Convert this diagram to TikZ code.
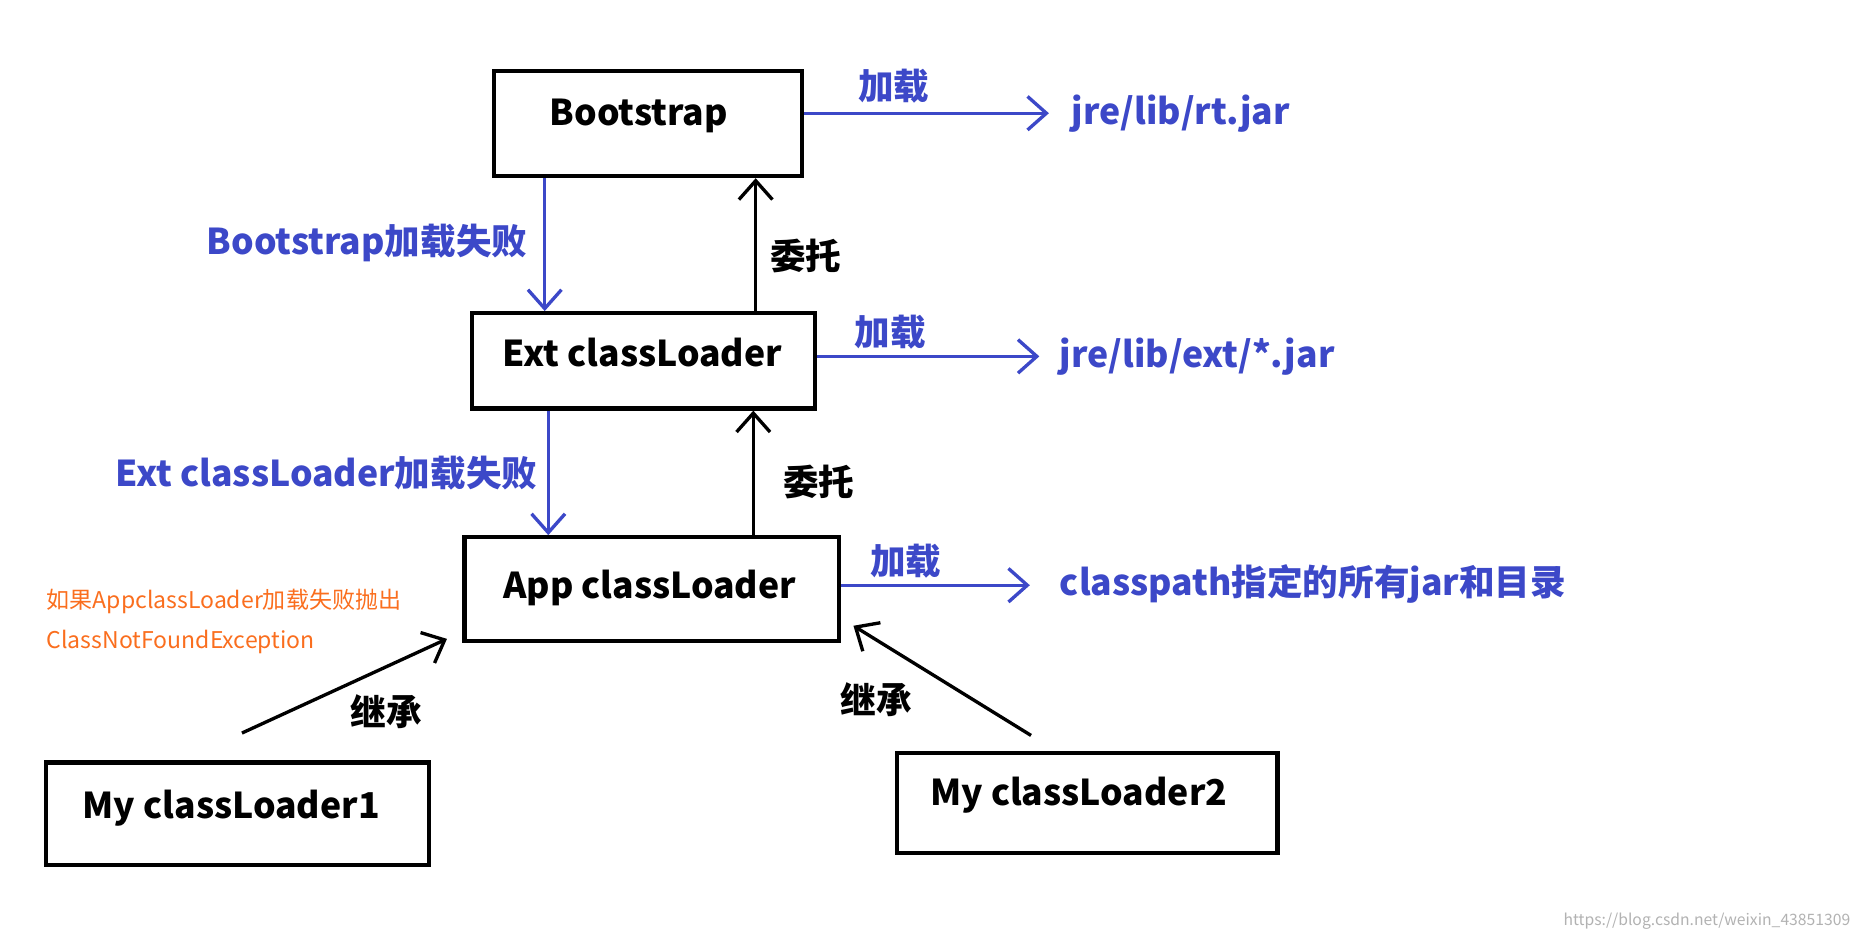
\documentclass[tikz,border=0pt]{standalone}
\usepackage{fontspec}
\setmainfont{Noto Sans CJK SC}
\usetikzlibrary{arrows.meta}
\definecolor{lblue}{RGB}{60,72,200}
\definecolor{lorange}{RGB}{250,110,30}
\begin{document}
\begin{tikzpicture}[x=0.02cm,y=-0.02cm,
  box/.style={draw,line width=2pt,inner sep=0,anchor=north west},
  btxt/.style={font=\fontsize{17}{20}\selectfont\bfseries},
  ltxt/.style={font=\fontsize{17}{20}\selectfont\bfseries,text=lblue},
  barrow/.style={line width=1.6pt,-{Straight Barb[length=9pt,width=16pt]}},
  blarrow/.style={barrow,draw=lblue}]
\useasboundingbox (0,0) rectangle (1563,786);
% boxes
\node[box,minimum width=258*0.02cm,minimum height=88*0.02cm] (boot) at (413,58) {};
\node[btxt] at (536,97) {Bootstrap};
\node[box,minimum width=288*0.02cm,minimum height=80*0.02cm] (ext) at (394,261) {};
\node[btxt] at (539,296) {Ext classLoader};
\node[box,minimum width=314*0.02cm,minimum height=87*0.02cm] (app) at (388,449) {};
\node[btxt] at (545,493) {App classLoader};
\node[box,minimum width=321*0.02cm,minimum height=86*0.02cm] (my1) at (37,638) {};
\node[btxt] at (194,678) {My classLoader1};
\node[box,minimum width=319*0.02cm,minimum height=84*0.02cm] (my2) at (751,630) {};
\node[btxt] at (905,667) {My classLoader2};
% targets
\node[ltxt,anchor=west] (rt) at (893,95) {jre/lib/rt.jar};
\node[ltxt,anchor=west] (extjar) at (883,299) {jre/lib/ext/*.jar};
\node[ltxt,anchor=west] (cp) at (883,490) {classpath指定的所有jar和目录};
\coordinate (c1) at (880,95);
\coordinate (c2) at (872,299);
\coordinate (c3) at (864,491);
% load arrows
\draw[blarrow] (boot.east |- c1) -- (c1);
\draw[blarrow] (ext.east |- c2) -- (c2);
\draw[blarrow] (app.east |- c3) -- (c3);
\node[ltxt] at (750,72) {加载};
\node[ltxt] at (747,279) {加载};
\node[ltxt] at (760,471) {加载};
% failures
\draw[blarrow] (boot.south -| 457,0) -- (ext.north -| 457,0);
\node[ltxt] at (308,204) {Bootstrap加载失败};
\draw[blarrow] (ext.south -| 460,0) -- (app.north -| 460,0);
\node[ltxt] at (274,397) {Ext classLoader加载失败};
% delegation
\draw[barrow] (ext.north -| 634,0) -- (boot.south -| 634,0);
\node[btxt] at (676,215) {委托};
\draw[barrow] (app.north -| 632,0) -- (ext.south -| 632,0);
\node[btxt] at (687,404) {委托};
% inheritance
\coordinate (i1) at (203,615);
\coordinate (i2) at (865,617);
\coordinate (a1) at (375,536);
\coordinate (a2) at (716,525);
\draw[barrow] (i1) -- (a1);
\draw[barrow] (i2) -- (a2);
\node[btxt] at (324,597) {继承};
\node[btxt] at (735,587) {继承};
% note
\node[anchor=west,text=lorange,font=\fontsize{11}{13}\selectfont] at (33,505) {如果AppclassLoader加载失败抛出};
\node[anchor=west,text=lorange,font=\fontsize{11}{13}\selectfont] at (33,539) {ClassNotFoundException};
\node[text=gray!60,font=\fontsize{7.5}{9}\selectfont] at (1432,773) {https://blog.csdn.net/weixin\_43851309};
\end{tikzpicture}
\end{document}
